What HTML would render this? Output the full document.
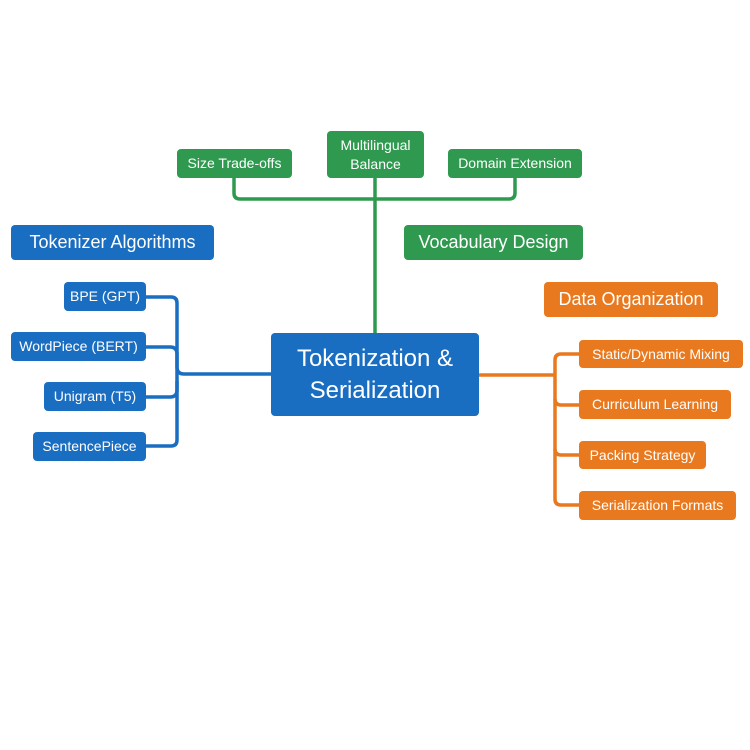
<!DOCTYPE html>
<html><head><style>
body{margin:0;width:750px;height:750px;background:#fff;position:relative;font-family:"Liberation Sans",sans-serif;overflow:hidden}
.b{position:absolute;color:#fff;border-radius:4px;display:flex;align-items:center;justify-content:center;text-align:center;box-sizing:border-box;white-space:nowrap;line-height:1.15}
.bl{background:#1a6ec2}.gr{background:#2f9a4f}.or{background:#e8791f}
.s{font-size:14px}.m{font-size:18px}
svg{position:absolute;left:0;top:0}
</style></head><body>
<svg width="750" height="750" fill="none" stroke-width="3.5" stroke-linejoin="round">
<g stroke="#2f9a4f">
<path d="M234 178 V193 q0 6 6 6 H509 q6 0 6 -6 V178"/>
<path d="M375 178 V334"/>
</g>
<g stroke="#1a6ec2">
<path d="M146 297 H171 q6 0 6 6 V440 q0 6 -6 6 H146"/>
<path d="M146 347 H170 q7 0 7 7 V367 q0 7 7 7 H272"/>
<path d="M146 397 H170 q7 0 7 -7 V381"/>
</g>
<g stroke="#e8791f">
<path d="M479 375 H555"/>
<path d="M579 354 H561 q-6 0 -6 6 V499 q0 6 6 6 H579"/>
<path d="M579 405 H561 q-6 0 -6 -6"/>
<path d="M579 455 H561 q-6 0 -6 -6"/>
</g>
</svg>
<div class="b gr s" style="left:177px;top:149px;width:115px;height:29px">Size Trade-offs</div>
<div class="b gr s" style="left:327px;top:131px;width:97px;height:47px;line-height:1.35">Multilingual<br>Balance</div>
<div class="b gr s" style="left:448px;top:149px;width:134px;height:29px">Domain Extension</div>
<div class="b gr m" style="left:404px;top:225px;width:179px;height:35px">Vocabulary Design</div>
<div class="b bl m" style="left:11px;top:225px;width:203px;height:35px">Tokenizer Algorithms</div>
<div class="b bl s" style="left:64px;top:282px;width:82px;height:29px">BPE (GPT)</div>
<div class="b bl s" style="left:11px;top:332px;width:135px;height:29px">WordPiece (BERT)</div>
<div class="b bl s" style="left:44px;top:382px;width:102px;height:29px">Unigram (T5)</div>
<div class="b bl s" style="left:33px;top:432px;width:113px;height:29px">SentencePiece</div>
<div class="b bl" style="left:271px;top:333px;width:208px;height:83px;font-size:24px;line-height:1.3">Tokenization &amp;<br>Serialization</div>
<div class="b or m" style="left:544px;top:282px;width:174px;height:35px">Data Organization</div>
<div class="b or s" style="left:579px;top:340px;width:164px;height:28px">Static/Dynamic Mixing</div>
<div class="b or s" style="left:579px;top:390px;width:152px;height:29px">Curriculum Learning</div>
<div class="b or s" style="left:579px;top:441px;width:127px;height:28px">Packing Strategy</div>
<div class="b or s" style="left:579px;top:491px;width:157px;height:29px">Serialization Formats</div>
</body></html>
